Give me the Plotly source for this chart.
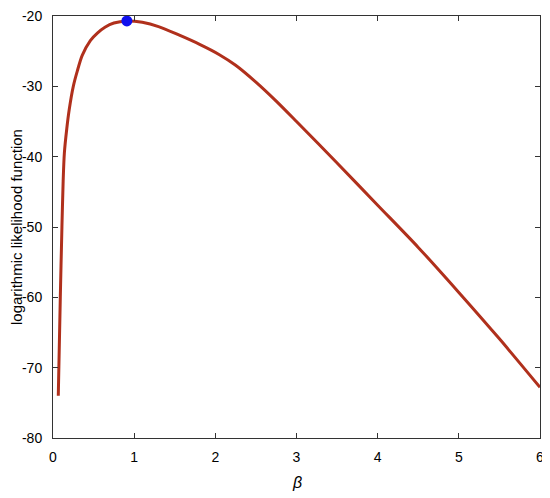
import plotly.graph_objects as go

# curve
beta = [0.065, 0.09, 0.11, 0.125, 0.14, 0.17, 0.2, 0.25, 0.3, 0.36, 0.46, 0.55, 0.64,
        0.75, 0.91, 1.1, 1.3, 1.55, 1.8, 2.05, 2.25, 2.5, 2.75, 3.0, 3.5, 4.0, 4.5,
        5.0, 5.5, 6.0]
loglik = [-74, -60, -50, -43.5, -39.5, -36, -33.3, -30, -27.8, -25.6, -23.5, -22.4, -21.6,
          -21.0, -20.7, -20.9, -21.5, -22.7, -24.0, -25.5, -27.0, -29.4, -32.1, -35.0,
          -40.9, -46.9, -52.9, -59.3, -65.9, -72.8]

# maximum point
beta_max = [0.91]
loglik_max = [-20.7]

x_ticks = [0, 1, 2, 3, 4, 5, 6]
y_ticks = [-80, -70, -60, -50, -40, -30, -20]
y_labels = ["-80", "-70", "-60", "-50", "-40", "-30", "-20"]

fig = go.Figure()
fig.add_trace(go.Scatter(x=beta, y=loglik, mode="lines",
                         line=dict(color="#b0301c", width=3, shape="spline", smoothing=0.8)))
fig.add_trace(go.Scatter(x=beta_max, y=loglik_max, mode="markers",
                         marker=dict(color="#1010ee", size=11), cliponaxis=False))

axis_style = dict(showline=True, linecolor="#333333", linewidth=1, mirror="ticks",
                  ticks="inside", ticklen=5, tickcolor="#333333", showgrid=False,
                  zeroline=False, automargin=False, ticklabeloverflow="allow",
                  tickfont=dict(family="Liberation Sans", size=14, color="black"))

# page body has an 8px margin, so the figure is shrunk by that much
fig.update_layout(
    width=542, height=490,
    margin=dict(l=45, r=10, t=8, b=60),
    plot_bgcolor="white", paper_bgcolor="white",
    showlegend=False,
    xaxis=dict(range=[0, 6], tickvals=x_ticks, ticklabelstandoff=6, **axis_style),
    yaxis=dict(range=[-80, -20], tickvals=y_ticks, ticktext=y_labels,
               ticklabelstandoff=7, **axis_style),
)

fig.add_annotation(text="<i>β</i>", xref="paper", yref="paper", x=0.5, y=0,
                   xanchor="center", yanchor="middle", yshift=-44, showarrow=False,
                   font=dict(family="Liberation Sans", size=16, color="black"))
fig.add_annotation(text="logarithmic likelihood function", xref="paper", yref="paper",
                   x=0, y=0.5, xanchor="center", yanchor="middle", xshift=-37,
                   textangle=-90, showarrow=False,
                   font=dict(family="Liberation Sans", size=15, color="black"))

fig.write_html("out.html")
